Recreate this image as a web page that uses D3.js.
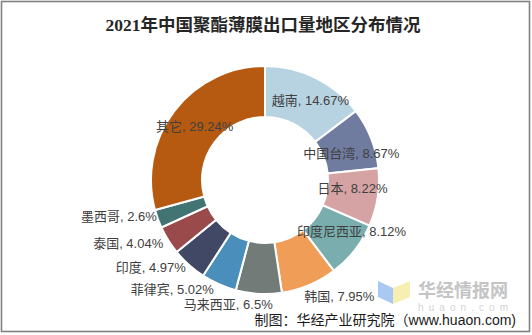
<!DOCTYPE html>
<html><head><meta charset="utf-8">
<script src="https://cdn.jsdelivr.net/npm/d3@7"></script>
<style>
html,body{margin:0;padding:0;background:#fff;}
text{font-family:"Liberation Sans","Noto Sans CJK SC",sans-serif;}
</style></head>
<body>
<svg id="chart" width="532" height="335"></svg>
<script>
const categories = ["越南","中国台湾","日本","印度尼西亚","韩国","马来西亚","菲律宾","印度","泰国","墨西哥","其它"];
const values = [14.67, 8.67, 8.22, 8.12, 7.95, 6.5, 5.02, 4.97, 4.04, 2.6, 29.24];
const colors = ["#b7d3e2","#6f7b9f","#d5a3a4","#7aaeae","#f09d57","#737b79","#4a8ebb","#404866","#9b4a4b","#437474","#b55a10"];
const title = "2021年中国聚酯薄膜出口量地区分布情况";
const source = "制图：华经产业研究院（www.huaon.com)";

// label nudges (layout only)
const labelNudge = {
  "越南":[6,0], "中国台湾":[4,6], "日本":[0,-5], "印度尼西亚":[17,-3], "其它":[0,0],
  "韩国":[-5,11], "马来西亚":[14,11], "菲律宾":[-5,5], "印度":[-3,3], "泰国":[-5,3], "墨西哥":[-1,-2]
};

const svg = d3.select("#chart");
svg.append("rect").attr("x",1.5).attr("y",1.5).attr("width",528).attr("height",330)
  .attr("fill","#fff").attr("stroke","#808080").attr("stroke-width",1.6);

svg.append("text").attr("x",263).attr("y",25).attr("dy","0.35em")
  .attr("text-anchor","middle").attr("font-size",17.5).attr("font-weight","bold")
  .attr("fill","#262626")
  .style("font-family","'Liberation Serif','Noto Sans CJK SC',serif")
  .text(title);

const cx = 265, cy = 180, R = 114, r0 = 63;
const data = categories.map((c,i)=>({name:c, value:values[i], color:colors[i]}));
const pie = d3.pie().sort(null).value(d=>d.value);
const arcs = pie(data);
const arc = d3.arc().innerRadius(r0).outerRadius(R);
const g = svg.append("g").attr("transform",`translate(${cx},${cy})`);

// watermark logo (behind)
const wm = svg.append("g");
wm.append("path").attr("d","M378,281 L393,288 L393,304 L378,297 Z").attr("fill","#a9c9f2");
wm.append("path").attr("d","M393,288 L410,281 L410,297 L393,304 Z").attr("fill","#f7eeb2");
wm.append("text").attr("x",418).attr("y",291).attr("dy","0.35em").attr("font-size",18)
  .attr("font-weight","bold").attr("fill","#c4c4c4").attr("textLength",90).text("华经情报网");
wm.append("text").attr("x",418).attr("y",307).attr("dy","0.35em").attr("font-size",10)
  .attr("fill","#d4d4d4").attr("textLength",90).attr("lengthAdjust","spacing").text("huaon.com");

g.selectAll("path.slice").data(arcs).enter().append("path")
  .attr("class","slice").attr("d",arc).attr("fill",d=>d.data.color)
  .attr("stroke","#fff").attr("stroke-width",2);

const outerArc = d3.arc().innerRadius(R).outerRadius(R);
g.selectAll("text.lbl").data(arcs).enter().append("text")
  .attr("class","lbl").attr("font-size",13).attr("fill","#404040").attr("dy","0.35em")
  .each(function(d){
    const inside = d.data.value >= 8;
    const mid = (d.startAngle+d.endAngle)/2;
    let x, y, anchor;
    if (inside) { [x,y] = arc.centroid(d); anchor = "middle"; }
    else {
      x = R*Math.sin(mid); y = -R*Math.cos(mid);
      anchor = Math.sin(mid) >= 0 ? "start" : "end";
    }
    const n = labelNudge[d.data.name] || [0,0];
    d3.select(this).attr("x",x+n[0]).attr("y",y+n[1]).attr("text-anchor",anchor)
      .text(`${d.data.name}, ${d.data.value}%`);
  });

svg.append("text").attr("x",516).attr("y",320).attr("dy","0.35em").attr("text-anchor","end")
  .attr("font-size",14).attr("fill","#1a1a1a").text(source);
</script>
</body></html>
